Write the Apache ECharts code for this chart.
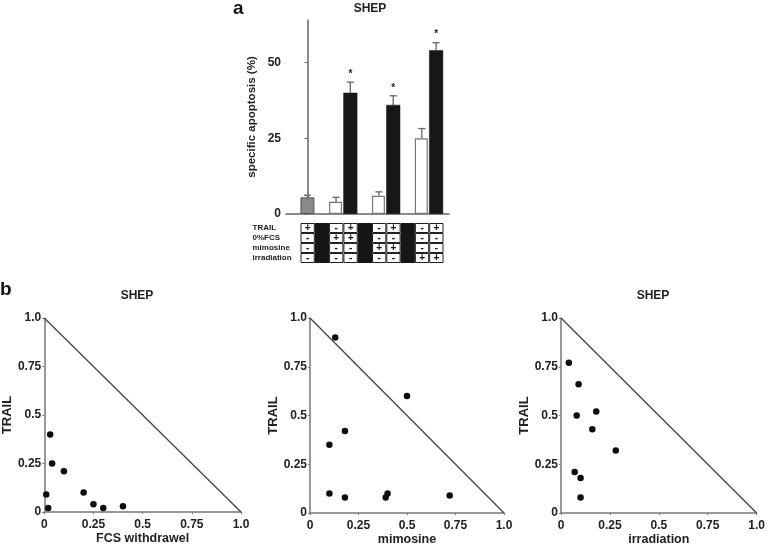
<!DOCTYPE html>
<html>
<head>
<meta charset="utf-8">
<script src="https://cdn.jsdelivr.net/npm/echarts@6/dist/echarts.min.js"></script>
<style>html,body{margin:0;padding:0;background:#fff}#c{width:768px;height:552px}</style>
</head>
<body>
<div id="c"></div>
<script>
// ---- Panel a data ----
const controlX = [0];
const controlValues = [5.5];
const controlErr = [6.2];
const singleX = [2, 5, 8];
const singleValues = [4, 6, 25];
const singleErr = [5.5, 7.3, 28.2];
const comboX = [3, 6, 9];
const comboValues = [40, 36, 54];
const comboErr = [43.5, 39, 56.5];
const yTicksA = [0, 25, 50];

const tableRowLabels = ['TRAIL', '0%FCS', 'mimosine', 'irradiation'];
const gapColumns = [1, 4, 7];
const rowTRAIL = ['+', '', '-', '+', '', '-', '+', '', '-', '+'];
const rowFCS   = ['-', '', '+', '+', '', '-', '-', '', '-', '-'];
const rowMimo  = ['-', '', '-', '-', '', '+', '+', '', '-', '-'];
const rowIrr   = ['-', '', '-', '-', '', '-', '-', '', '+', '+'];

// ---- Panel b data ----
const fcsX   = [0.03, 0.04, 0.10, 0.01, 0.02, 0.20, 0.25, 0.30, 0.40];
const fcsY   = [0.40, 0.25, 0.21, 0.09, 0.02, 0.10, 0.04, 0.02, 0.03];
const mimoX  = [0.13, 0.50, 0.18, 0.10, 0.10, 0.18, 0.39, 0.40, 0.72];
const mimoY  = [0.90, 0.60, 0.42, 0.35, 0.10, 0.08, 0.08, 0.10, 0.09];
const irrX   = [0.04, 0.09, 0.08, 0.18, 0.16, 0.28, 0.07, 0.10, 0.10];
const irrY   = [0.77, 0.66, 0.50, 0.52, 0.43, 0.32, 0.21, 0.18, 0.08];
const diagonal = [[0, 1], [1, 0]];
const bxNames = ['FCS withdrawel', 'mimosine', 'irradiation'];

const FONT = "'Liberation Sans', Arial, sans-serif";
const zip = (xs, ys) => xs.map((x, i) => [x, ys[i]]);

const tableRows = [rowTRAIL, rowFCS, rowMimo, rowIrr];
const tableData = [];
tableRows.forEach((row, r) => row.forEach((s, c) => {
  if (gapColumns.indexOf(c) < 0) tableData.push([c, r, s]);
}));
const gapData = gapColumns.map(c => [c, 0]);

const errData = [].concat(
  zip(controlX, controlValues).map((d, i) => [d[0], d[1], controlErr[i], 0]),
  zip(singleX, singleValues).map((d, i) => [d[0], d[1], singleErr[i], 0]),
  zip(comboX, comboValues).map((d, i) => [d[0], d[1], comboErr[i], 1])
);

const chart = echarts.init(document.getElementById('c'), null, {renderer: 'canvas'});

const bGrids = [
  {left: 43, top: 318, width: 198, height: 194},
  {left: 310, top: 318, width: 194, height: 195},
  {left: 561, top: 318, width: 197, height: 195}
];
const labFmt = v => v === 1 ? '1.0' : String(v);

const grids = [
  {left: 286, top: 20, width: 163, height: 194},
  {left: 300.5, top: 223, width: 143, height: 40}
].concat(bGrids);

const xAxes = [
  {gridIndex: 0, type: 'value', min: -1.5, max: 9.9,
   axisLine: {show: true, lineStyle: {color: '#666', width: 1.5}},
   axisTick: {show: false}, axisLabel: {show: false}, splitLine: {show: false}},
  {gridIndex: 1, type: 'value', min: -0.5, max: 9.5, show: false}
];
const yAxes = [
  {gridIndex: 0, type: 'value', min: 0, max: 64,
   name: 'specific apoptosis (%)', nameLocation: 'middle', nameGap: 28,
   nameTextStyle: {fontFamily: FONT, fontWeight: 'bold', fontSize: 11.5, color: '#222'},
   axisLine: {show: true, lineStyle: {color: '#666', width: 1.5}},
   axisTick: {show: true, length: 3, customValues: yTicksA, lineStyle: {color: '#666'}},
   axisLabel: {customValues: yTicksA, fontFamily: FONT, fontWeight: 'bold', fontSize: 12, color: '#222', margin: 5},
   splitLine: {show: false}},
  {gridIndex: 1, type: 'category', data: tableRowLabels, inverse: true,
   axisLine: {show: false}, axisTick: {show: false},
   axisLabel: {interval: 0, hideOverlap: false, align: 'left', margin: 48, fontFamily: FONT, fontWeight: 'bold', fontSize: 8, color: '#222'}}
];
bGrids.forEach((g, i) => {
  xAxes.push({gridIndex: i + 2, type: 'value', min: 0, max: 1, interval: 0.25,
    name: bxNames[i], nameLocation: 'middle', nameGap: 19,
    nameTextStyle: {fontFamily: FONT, fontWeight: 'bold', fontSize: 12.5, color: '#222'},
    axisLine: {lineStyle: {color: '#777', width: 1.5}},
    axisTick: {show: true, length: 2, lineStyle: {color: '#777'}},
    axisLabel: {formatter: labFmt, fontFamily: FONT, fontWeight: 'bold', fontSize: 12, color: '#222', margin: 7},
    splitLine: {show: false}});
  yAxes.push({gridIndex: i + 2, type: 'value', min: 0, max: 1, interval: 0.25,
    name: 'TRAIL', nameLocation: 'middle', nameGap: 29,
    nameTextStyle: {fontFamily: FONT, fontWeight: 'bold', fontSize: 13, color: '#222'},
    axisLine: {show: true, lineStyle: {color: '#777', width: 1.5}},
    axisTick: {show: true, length: 2, lineStyle: {color: '#777'}},
    axisLabel: {formatter: labFmt, fontFamily: FONT, fontWeight: 'bold', fontSize: 12, color: '#222', margin: 3},
    splitLine: {show: false}});
});

const series = [
  {type: 'bar', xAxisIndex: 0, yAxisIndex: 0, barWidth: 14, barGap: '-100%',
   data: zip(controlX, controlValues),
   itemStyle: {color: '#8a8a8a', borderColor: '#555', borderWidth: 1}},
  {type: 'bar', xAxisIndex: 0, yAxisIndex: 0, barWidth: 13, barGap: '-100%',
   data: zip(singleX, singleValues),
   itemStyle: {color: '#fff', borderColor: '#777', borderWidth: 1.2}},
  {type: 'bar', xAxisIndex: 0, yAxisIndex: 0, barWidth: 14, barGap: '-100%',
   data: zip(comboX, comboValues),
   itemStyle: {color: '#171717', borderColor: '#111', borderWidth: 0.5}},
  {type: 'custom', xAxisIndex: 0, yAxisIndex: 0, data: errData, z: 1,
   renderItem: (params, api) => {
     const base = api.coord([api.value(0), api.value(1)]);
     const top = api.coord([api.value(0), api.value(2)]);
     const children = [
       {type: 'line', shape: {x1: base[0], y1: base[1], x2: top[0], y2: top[1]}, style: {stroke: '#666', lineWidth: 1.3}},
       {type: 'line', shape: {x1: top[0] - 3.5, y1: top[1], x2: top[0] + 3.5, y2: top[1]}, style: {stroke: '#666', lineWidth: 1.3}}
     ];
     if (api.value(3) === 1) {
       children.push({type: 'text', style: {text: '*', x: top[0], y: top[1] - 3, textAlign: 'center', textVerticalAlign: 'bottom',
         font: 'bold 10px ' + FONT, fill: '#222'}});
     }
     return {type: 'group', children};
   }},
  {type: 'custom', xAxisIndex: 1, yAxisIndex: 1, data: tableData,
   renderItem: (params, api) => {
     const c = api.coord([api.value(0), api.value(1)]);
     const s = api.size([1, 1]);
     const w = s[0], h = s[1];
     return {type: 'group', children: [
       {type: 'rect', shape: {x: c[0] - w / 2 + 0.5, y: c[1] - h / 2 + 0.5, width: w - 1, height: h - 1},
        style: {fill: '#fff', stroke: '#222', lineWidth: 1}},
       {type: 'text', style: {text: tableData[params.dataIndex][2], x: c[0], y: c[1] + 0.5, textAlign: 'center', textVerticalAlign: 'middle',
        font: 'bold 10px ' + FONT, fill: '#111'}}
     ]};
   }},
  {type: 'custom', xAxisIndex: 1, yAxisIndex: 1, data: gapData,
   renderItem: (params, api) => {
     const c = api.coord([api.value(0), 0]);
     const s = api.size([1, 1]);
     return {type: 'rect', shape: {x: c[0] - s[0] / 2, y: c[1] - s[1] / 2, width: s[0], height: s[1] * 4},
       style: {fill: '#161616'}};
   }}
];

const bSets = [zip(fcsX, fcsY), zip(mimoX, mimoY), zip(irrX, irrY)];
bSets.forEach((d, i) => {
  series.push({type: 'line', xAxisIndex: i + 2, yAxisIndex: i + 2, data: diagonal, symbol: 'none',
    lineStyle: {color: '#444', width: 1.3}, silent: true});
  series.push({type: 'scatter', xAxisIndex: i + 2, yAxisIndex: i + 2, data: d, symbolSize: 6.5,
    itemStyle: {color: '#0d0d0d', opacity: 1}});
});

chart.setOption({
  animation: false,
  backgroundColor: '#fff',
  grid: grids,
  xAxis: xAxes,
  yAxis: yAxes,
  series: series,
  graphic: [
    {type: 'text', left: 233, top: -1, style: {text: 'a', font: 'bold 19px ' + FONT, fill: '#111'}},
    {type: 'text', x: 370, y: 3, style: {text: 'SHEP', textAlign: 'center', font: 'bold 12px ' + FONT, fill: '#222'}},
    {type: 'text', left: 0, top: 280, style: {text: 'b', font: 'bold 19px ' + FONT, fill: '#111'}},
    {type: 'text', x: 137, y: 290, style: {text: 'SHEP', textAlign: 'center', font: 'bold 12px ' + FONT, fill: '#222'}},
    {type: 'text', x: 653, y: 290, style: {text: 'SHEP', textAlign: 'center', font: 'bold 12px ' + FONT, fill: '#222'}}
  ]
});
</script>
</body>
</html>
